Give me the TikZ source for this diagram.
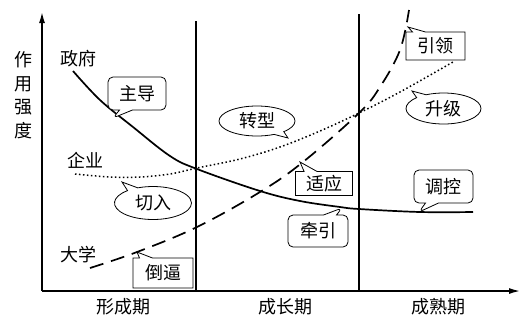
\documentclass[tikz,border=0pt]{standalone}
\usepackage{fontspec}
\setmainfont{Noto Sans CJK SC}
\usetikzlibrary{shapes.callouts,shapes.geometric,arrows.meta}
\begin{document}
\begin{tikzpicture}[x=1pt,y=-1pt,
  txt/.style={font=\fontsize{18}{20}\selectfont, inner sep=0pt},
  callbase/.style={draw, line width=0.8pt, font=\fontsize{18}{20}\selectfont, inner sep=0pt, fill=white},
  rbox/.style={callbase, rectangle callout, rounded corners=5pt, callout pointer width=13pt},
  sbox/.style={callbase, rectangle callout, callout pointer width=13pt},
  ebox/.style={callbase, ellipse callout, callout pointer arc=18},
  axis/.style={line width=1.4pt, -{Latex[length=11pt,width=6pt]}},
  divider/.style={line width=1.8pt},
  curve/.style={line width=1.7pt},
  dashcurve/.style={line width=1.7pt, dash pattern=on 14pt off 8pt},
  dotcurve/.style={line width=1.5pt, dash pattern=on 1.5pt off 2.5pt}]
\useasboundingbox (0,0) rectangle (521,322);
% axes
\coordinate (O) at (42,291);
\coordinate (Ytop) at (42,12);
\coordinate (Xend) at (520,291);
\draw[axis] (O) -- (Ytop);
\draw[axis] (O) -- (Xend);
% dividers
\coordinate (d1t) at (196,21);
\coordinate (d1b) at (196,291);
\coordinate (d2t) at (359,14);
\coordinate (d2b) at (359,291);
\draw[divider] (d1t) -- (d1b);
\draw[divider] (d2t) -- (d2b);
% axis labels
\node[txt, align=center, font=\fontsize{18}{23.5}\selectfont] (ylab) at (23,95) {作\\用\\强\\度};
\node[txt] (p1) at (123,307) {形成期};
\node[txt] (p2) at (285,307) {成长期};
\node[txt] (p3) at (438,307) {成熟期};
% curve labels
\node[txt] (gov) at (78,59) {政府};
\node[txt] (ent) at (85,160) {企业};
\node[txt] (uni) at (78,255) {大学};
% curves
\draw[curve] plot[smooth, tension=0.6] coordinates {(73,71) (100,100) (133,127) (170,156) (197,169) (260,191) (300,201) (340,207) (359,209) (420,212) (473,212)};
\draw[dotcurve] plot[smooth, tension=0.6] coordinates {(75,174) (110,177) (140,177) (170,174) (197,168) (240,159) (280,147) (320,131) (359,113) (400,92) (453,62)};
\draw[dashcurve] plot[smooth, tension=0.6] coordinates {(90,268) (137,252) (197,227) (260,192) (303,162) (359,113) (380,87) (400,50) (409,10)};
% pointer targets
\coordinate (t1) at (113,118);
\coordinate (t2) at (122,182);
\coordinate (t3) at (137,252);
\coordinate (t4) at (288,138);
\coordinate (t5) at (300,162);
\coordinate (t6) at (342,208);
\coordinate (t7) at (419,212);
\coordinate (t8) at (408,27);
\coordinate (t9) at (412,91);
% callouts
\node[rbox, minimum width=58pt, minimum height=33pt, callout absolute pointer=(t1)] (zd) at (137,93.5) {主导};
\node[ebox, minimum width=77pt, minimum height=33pt, callout absolute pointer=(t2)] (qr) at (153,203) {切入};
\node[sbox, minimum width=60pt, minimum height=30pt, callout absolute pointer=(t3)] (db) at (163,273) {倒逼};
\node[ebox, minimum width=76pt, minimum height=30pt, callout absolute pointer=(t4)] (zx) at (257,121) {转型};
\node[sbox, minimum width=57pt, minimum height=24pt, callout absolute pointer=(t5)] (sy) at (324,183.5) {适应};
\node[rbox, minimum width=60pt, minimum height=32pt, callout absolute pointer=(t6)] (qy) at (318,231) {牵引};
\node[rbox, minimum width=59pt, minimum height=33pt, callout absolute pointer=(t7)] (tk) at (443.5,186.5) {调控};
\node[sbox, minimum width=59pt, minimum height=28pt, callout absolute pointer=(t8)] (yl) at (435.5,46) {引领};
\node[ebox, minimum width=75pt, minimum height=31pt, callout absolute pointer=(t9)] (sj) at (443.5,108.5) {升级};
\end{tikzpicture}
\end{document}
